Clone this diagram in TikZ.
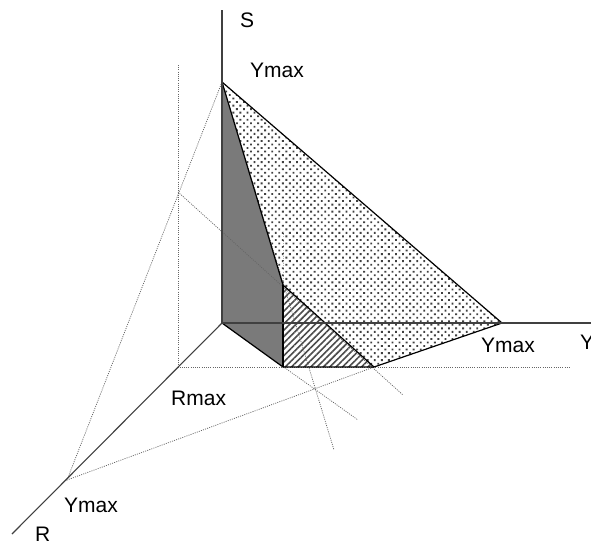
\documentclass[tikz,border=0pt]{standalone}
\usepackage{fontspec}
\setmainfont{Liberation Sans}
\usetikzlibrary{patterns.meta}

\begin{document}
\begin{tikzpicture}[x=1pt, y=-1pt, axis/.style={draw=black!75,line width=1.1pt}, edge/.style={draw=black,line width=1.2pt}, guide/.style={draw=black!60,line width=0.75pt,dash pattern=on 1pt off 1.2pt}, lbl/.style={anchor=base west,inner sep=0pt,font=\fontsize{21}{24}\selectfont}]
\useasboundingbox (0,0) rectangle (591,544);
% axes and the main points
\coordinate (O) at (222,323);
\coordinate (stop) at (222,10);
\coordinate (yend) at (591,323);
\coordinate (rend) at (12,534);
\coordinate (smax) at (222,82);
\coordinate (ymax) at (502,323);
\coordinate (rymax) at (67,480);
\coordinate (rmax) at (178,367);
\coordinate (rtop) at (178,65);
\coordinate (rright) at (570,367);
\coordinate (base) at (283,367);
\coordinate (corner) at (374,367);
\coordinate (knee) at (283,285);
\coordinate (ktop) at (283,232);
\coordinate (sline) at (178,192);
\coordinate (send) at (403,395);
\coordinate (aend) at (334,450);
\coordinate (oend) at (358,420);
% shaded faces
\path[pattern={Dots[radius=1.3pt,distance=5pt,angle=45]}, pattern color=black!75] (smax) -- (ymax) -- (corner) -- (knee) -- cycle;
\path[fill=black!52] (smax) -- (knee) -- (base) -- (O) -- cycle;
\path[pattern={Lines[angle=45,distance=4.5pt,line width=1.6pt]}, pattern color=black!70] (knee) -- (base) -- (corner) -- cycle;
% guide lines
\draw[guide] (rtop) -- (rmax) -- (rright);
\draw[guide] (smax) -- (rymax) -- (corner);
\draw[guide] (sline) -- (send);
\draw[guide] (smax) -- (aend);
\draw[guide] (O) -- (oend);
\draw[guide, draw=black!30] (ktop) -- (knee);
% edges of the faces
\draw[edge] (smax) -- (ymax) -- (corner) -- (base) -- (O);
\draw[edge] (smax) -- (knee) -- (corner);
\draw[edge] (knee) -- (base);
% axes
\draw[axis] (stop) -- (O) -- (yend);
\draw[axis] (O) -- (rend);
\draw[axis] (smax) -- (O);
% labels
\node[lbl] (ls) at (240,27) {S};
\node[lbl] (lsmax) at (250,77) {Ymax};
\node[lbl] (lymax) at (481,352) {Ymax};
\node[lbl] (ly) at (580,349) {Y};
\node[lbl] (lrmax) at (171,405) {Rmax};
\node[lbl] (lrymax) at (64,512) {Ymax};
\node[lbl] (lr) at (35,541) {R};
\end{tikzpicture}
\end{document}
